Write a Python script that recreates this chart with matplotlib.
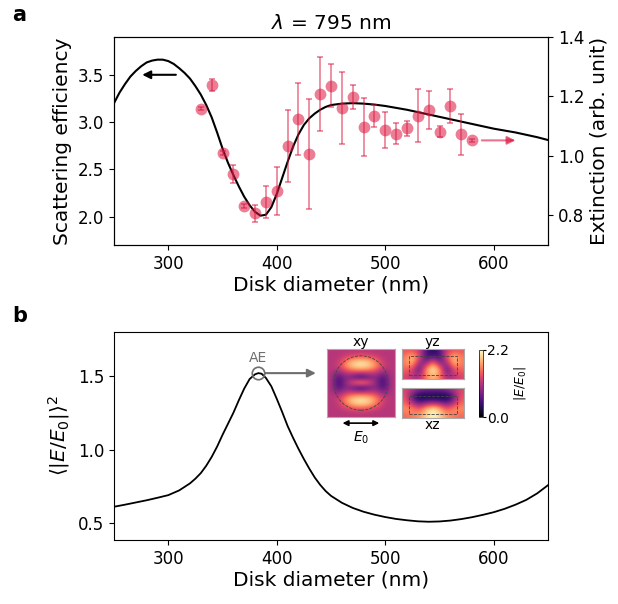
import matplotlib
matplotlib.use("Agg")
import matplotlib.pyplot as plt
import numpy as np
from matplotlib.patches import Circle, Rectangle

# panel a: simulated scattering efficiency (left axis)
d_sim = [250, 255, 260, 265, 270, 275, 280, 285, 290, 295, 300, 305, 310, 315, 320, 325, 330, 335,
         340, 345, 350, 355, 360, 365, 370, 375, 380, 385, 390, 395, 400, 405, 410, 415, 420,
         425, 430, 435, 440, 445, 450, 460, 470, 480, 490, 500, 520, 540, 560, 580, 600, 620, 640, 650]
q_sca = [3.20, 3.31, 3.40, 3.48, 3.54, 3.59, 3.63, 3.65, 3.66, 3.66, 3.645, 3.615, 3.57, 3.52, 3.46, 3.38, 3.29, 3.18,
         3.05, 2.89, 2.72, 2.57, 2.44, 2.32, 2.21, 2.12, 2.05, 2.01, 2.02, 2.10, 2.24, 2.41, 2.58, 2.74, 2.87,
         2.97, 3.04, 3.09, 3.13, 3.16, 3.18, 3.195, 3.20, 3.195, 3.185, 3.17,
         3.13, 3.08, 3.03, 2.98, 2.93, 2.89, 2.84, 2.81]

# panel a: measured extinction (right axis)
d_exp = [330, 340, 350, 360, 370, 380, 390, 400, 410, 420, 430, 440, 450,
         460, 470, 480, 490, 500, 510, 520, 530, 540, 550, 560, 570, 580]
ext = [1.159, 1.239, 1.010, 0.938, 0.832, 0.806, 0.845, 0.882, 1.033, 1.124, 1.006, 1.207, 1.236,
       1.161, 1.197, 1.097, 1.133, 1.088, 1.075, 1.092, 1.135, 1.155, 1.081, 1.167, 1.072, 1.052]
ext_err = [0.004, 0.021, 0.006, 0.030, 0.006, 0.027, 0.055, 0.080, 0.122, 0.121, 0.186, 0.124, 0.073,
           0.121, 0.041, 0.097, 0.037, 0.061, 0.036, 0.025, 0.089, 0.064, 0.018, 0.057, 0.070, 0.004]

# panel b: mean field enhancement
d_field = [250, 260, 270, 280, 290, 300, 310, 320, 325, 330, 335, 340, 345, 350, 355, 360, 365, 370, 375,
           380, 383, 386, 390, 395, 400, 405, 410, 415, 420, 425, 430, 435, 440, 445, 450, 460, 470,
           480, 490, 500, 510, 520, 530, 540, 550, 560, 570, 580, 590, 600, 610, 620, 630, 640, 650]
e_field = [0.611, 0.625, 0.640, 0.655, 0.672, 0.690, 0.722, 0.770, 0.802, 0.840, 0.890, 0.950, 1.020, 1.100, 1.175, 1.250,
           1.335, 1.415, 1.480, 1.512, 1.520, 1.516, 1.487, 1.430, 1.345, 1.255, 1.160, 1.080, 1.005, 0.935,
           0.870, 0.810, 0.760, 0.718, 0.685, 0.638, 0.603,
           0.577, 0.557, 0.541, 0.528, 0.519, 0.512, 0.509, 0.511, 0.517, 0.527, 0.540, 0.556, 0.574, 0.597,
           0.625, 0.658, 0.702, 0.758]

# field maps |E/E0| at the AE (coarse grids)
map_xy = [[1.1, 1.1, 1.1, 1.1, 1.1, 1.1, 1.1, 1.1, 1.1],
          [1.1, 1.1, 1.2, 1.3, 1.35, 1.3, 1.2, 1.1, 1.1],
          [1.1, 1.15, 1.6, 1.95, 2.05, 1.95, 1.6, 1.15, 1.1],
          [1.1, 1.2, 1.7, 2.0, 2.1, 2.0, 1.7, 1.2, 1.1],
          [1.1, 0.9, 1.2, 1.35, 1.35, 1.35, 1.2, 0.9, 1.1],
          [1.1, 0.5, 0.9, 0.6, 0.3, 0.6, 0.9, 0.5, 1.1],
          [1.1, 0.4, 0.9, 1.5, 1.85, 1.5, 0.9, 0.4, 1.1],
          [1.1, 0.5, 0.9, 0.6, 0.3, 0.6, 0.9, 0.5, 1.1],
          [1.1, 0.9, 1.2, 1.35, 1.35, 1.35, 1.2, 0.9, 1.1],
          [1.1, 1.2, 1.7, 2.0, 2.1, 2.0, 1.7, 1.2, 1.1],
          [1.1, 1.15, 1.6, 1.95, 2.05, 1.95, 1.6, 1.15, 1.1],
          [1.1, 1.1, 1.2, 1.3, 1.35, 1.3, 1.2, 1.1, 1.1],
          [1.1, 1.1, 1.1, 1.1, 1.1, 1.1, 1.1, 1.1, 1.1]]
map_yz = [[1.4, 1.4, 1.2, 0.6, 0.2, 0.6, 1.2, 1.4, 1.4],
          [1.6, 2.0, 1.4, 0.4, 0.7, 0.4, 1.4, 2.0, 1.6],
          [1.6, 1.9, 0.9, 0.9, 1.8, 0.9, 0.9, 1.9, 1.6],
          [1.5, 1.3, 0.5, 1.8, 2.2, 1.8, 0.5, 1.3, 1.5],
          [1.3, 1.1, 1.0, 1.6, 1.9, 1.6, 1.0, 1.1, 1.3]]
map_xz = [[1.3, 1.1, 0.9, 0.8, 0.8, 0.8, 0.9, 1.1, 1.3],
          [1.4, 0.6, 0.1, 0.1, 0.1, 0.1, 0.1, 0.6, 1.4],
          [1.5, 1.0, 0.6, 0.8, 0.9, 0.8, 0.6, 1.0, 1.5],
          [1.7, 1.7, 1.4, 1.9, 2.2, 1.9, 1.4, 1.7, 1.7],
          [1.5, 1.6, 1.7, 2.0, 2.2, 2.0, 1.7, 1.6, 1.5]]

red = "crimson"
gray = "#6e6e6e"
plt.rcParams["font.size"] = 12
lab = 14.5

fig = plt.figure(figsize=(6.18, 6.04), dpi=100)

# ---- panel a
ax1 = fig.add_axes([0.1845, 0.5944, 0.7023, 0.3444])
ax1.plot(d_sim, q_sca, color="k", lw=1.5)
ax1.set_xlim(250, 650)
ax1.set_ylim(1.7, 3.9)
ax1.set_yticks([2.0, 2.5, 3.0, 3.5])
ax1.set_xticks([300, 400, 500, 600])
ax1.set_xlabel("Disk diameter (nm)", fontsize=lab, labelpad=2)
ax1.set_ylabel("Scattering efficiency", fontsize=lab)
ax1.set_title(r"$\lambda$ = 795 nm", fontsize=lab, pad=6)
ax1.annotate("", xy=(276, 3.5), xytext=(307, 3.5),
             arrowprops=dict(arrowstyle="-|>", color="k", lw=1.5, mutation_scale=12, shrinkA=0, shrinkB=0))

ax2 = ax1.twinx()
ax2.errorbar(d_exp, ext, yerr=ext_err, fmt="none", ecolor=red, alpha=0.55,
             capsize=2.5, elinewidth=1.2, capthick=1.2)
ax2.plot(d_exp, ext, "o", color=red, alpha=0.55, ms=8.5, mew=0)
ax2.set_ylim(0.7, 1.4)
ax2.set_yticks([0.8, 1.0, 1.2, 1.4])
ax2.set_ylabel("Extinction (arb. unit)", fontsize=lab)
ax2.annotate("", xy=(620, 1.052), xytext=(589, 1.052),
             arrowprops=dict(arrowstyle="-|>", color=red, alpha=0.6, lw=1.5, mutation_scale=12, shrinkA=0, shrinkB=0))

# ---- panel b
ax3 = fig.add_axes([0.1845, 0.1060, 0.7023, 0.3444])
ax3.plot(d_field, e_field, color="k", lw=1.3)
ax3.set_xlim(250, 650)
ax3.set_ylim(0.385, 1.8)
ax3.set_xticks([300, 400, 500, 600])
ax3.set_yticks([0.5, 1.0, 1.5])
ax3.set_xlabel("Disk diameter (nm)", fontsize=lab, labelpad=2)
ax3.set_ylabel(r"$\langle|E/E_0|\rangle^2$", fontsize=lab)
ax3.plot([383], [1.52], "o", mfc="none", mec=gray, ms=9, mew=1.2)
ax3.text(383, 1.575, "AE", color=gray, ha="center", va="bottom", fontsize=10)
ax3.annotate("", xy=(436, 1.52), xytext=(389, 1.52),
             arrowprops=dict(arrowstyle="-|>", color=gray, lw=1.5, mutation_scale=12, shrinkA=0, shrinkB=0))

fig.text(0.02, 0.965, "a", fontsize=15, fontweight="bold")
fig.text(0.02, 0.467, "b", fontsize=15, fontweight="bold")

# ---- field map insets
vmax = 2.2
axi = fig.add_axes([0.529, 0.3096, 0.110, 0.1126])
im = axi.imshow(map_xy, cmap="magma", vmin=0, vmax=vmax, interpolation="bicubic",
                extent=(-1, 1, -1, 1), aspect="auto")
axi.add_patch(Circle((0, 0), 0.8, fill=False, ls="--", lw=0.6, color="#444444"))
axi.set_title("xy", fontsize=10, pad=1)
axi.annotate("", xy=(0.77, -0.09), xytext=(0.23, -0.09), xycoords="axes fraction",
             arrowprops=dict(arrowstyle="<|-|>", color="k", lw=1.2, mutation_scale=8, shrinkA=0, shrinkB=0))
axi.text(0.5, -0.3, r"$E_0$", transform=axi.transAxes, ha="center", va="center", fontsize=10)

ayz = fig.add_axes([0.650, 0.3725, 0.1003, 0.0497])
ayz.imshow(map_yz, cmap="magma", vmin=0, vmax=vmax, interpolation="bicubic",
           extent=(-1, 1, -0.5, 0.5), aspect="auto")
ayz.add_patch(Rectangle((-0.78, -0.35), 1.56, 0.62, fill=False, ls="--", lw=0.6, color="#444444"))
ayz.set_title("yz", fontsize=10, pad=1)

axz = fig.add_axes([0.650, 0.308, 0.1003, 0.0497])
axz.imshow(map_xz, cmap="magma", vmin=0, vmax=vmax, interpolation="bicubic",
           extent=(-1, 1, -0.5, 0.5), aspect="auto")
axz.add_patch(Rectangle((-0.78, -0.36), 1.56, 0.6, fill=False, ls="--", lw=0.6, color="#444444"))
axz.set_xlabel("xz", fontsize=10, labelpad=0)

for a in (axi, ayz, axz):
    a.set_xticks([])
    a.set_yticks([])
    for s in a.spines.values():
        s.set_color("#aaaaaa")

cax = fig.add_axes([0.775, 0.3096, 0.0065, 0.111])
cb = fig.colorbar(im, cax=cax, ticks=[0, 2.2], format="%.1f")
cb.ax.tick_params(labelsize=10, length=2, pad=1)
cb.outline.set_linewidth(0.5)
cb.set_label(r"$|E/E_0|$", fontsize=9, labelpad=2)

fig.savefig("out.png", dpi=100)
